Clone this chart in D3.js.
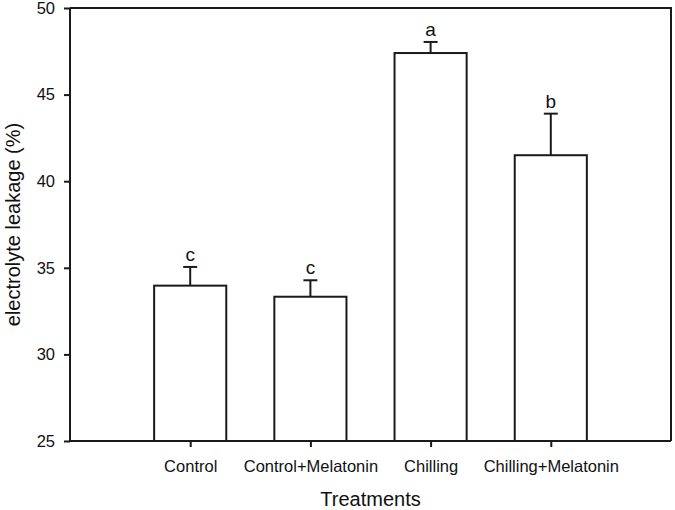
<!DOCTYPE html>
<html>
<head>
<meta charset="utf-8">
<script src="https://cdn.jsdelivr.net/npm/d3@7"></script>
<style>
  body { margin: 0; background: #fff; }
  svg { display: block; font-family: "Liberation Sans", Arial, sans-serif; }
</style>
</head>
<body>
<svg id="chart" width="675" height="510"></svg>
<script>
const categories = ["Control", "Control+Melatonin", "Chilling", "Chilling+Melatonin"];
const means = [33.97, 33.33, 47.4, 41.5];
const errors = [1.08, 0.95, 0.64, 2.4];
const letters = ["c", "c", "a", "b"];
const yTicks = [25, 30, 35, 40, 45, 50];

(function () {
const svg = d3.select("#chart");
const pLeft = 70, pRight = 671, pTop = 8, pBottom = 441;
const step = (pRight - pLeft) / 5;

const x = d3.scalePoint().domain(categories).range([pLeft + step, pRight - step]);
const y = d3.scaleLinear().domain([25, 50]).range([pBottom, pTop]);
const barW = step * 0.6;
const stroke = "#1a1a1a";

// bars
svg.append("g").selectAll("rect").data(categories).join("rect")
  .attr("x", d => x(d) - barW / 2)
  .attr("y", (d, i) => y(means[i]))
  .attr("width", barW)
  .attr("height", (d, i) => y(25) - y(means[i]))
  .attr("fill", "#fff")
  .attr("stroke", stroke)
  .attr("stroke-width", 2);

// error bars (upper only)
const eg = svg.append("g").attr("stroke", stroke).attr("stroke-width", 2);
categories.forEach((c, i) => {
  eg.append("line").attr("x1", x(c)).attr("x2", x(c))
    .attr("y1", y(means[i])).attr("y2", y(means[i] + errors[i]));
  eg.append("line").attr("x1", x(c) - 7).attr("x2", x(c) + 7)
    .attr("y1", y(means[i] + errors[i])).attr("y2", y(means[i] + errors[i]));
});

// significance letters
svg.append("g").selectAll("text").data(categories).join("text")
  .attr("x", d => x(d))
  .attr("y", (d, i) => y(means[i] + errors[i]) - 6)
  .attr("text-anchor", "middle")
  .attr("font-size", 19)
  .attr("fill", "#111")
  .text((d, i) => letters[i]);

// frame (top and right)
svg.append("path")
  .attr("d", `M${pLeft},${pTop}H${pRight}V${pBottom}`)
  .attr("fill", "none").attr("stroke", stroke).attr("stroke-width", 2);

// y axis
const yAxis = svg.append("g").attr("transform", `translate(${pLeft},0)`)
  .call(d3.axisLeft(y).tickValues(yTicks).tickSize(6).tickPadding(9).tickFormat(d3.format("d")));
yAxis.selectAll("path, line").attr("stroke", stroke).attr("stroke-width", 2);
yAxis.select(".domain").attr("d", `M0,${pTop}V${pBottom}`);
yAxis.selectAll("text").attr("font-size", 16.5).attr("fill", "#111")
  .attr("font-family", "Liberation Sans, Arial, sans-serif");

// x axis
const xAxis = svg.append("g").attr("transform", `translate(0,${pBottom})`)
  .call(d3.axisBottom(x).tickSize(6).tickPadding(13));
xAxis.select(".domain").attr("d", `M${pLeft},0H${pRight}`)
  .attr("stroke", stroke).attr("stroke-width", 2);
xAxis.selectAll("line").attr("stroke", stroke).attr("stroke-width", 2);
xAxis.selectAll("text").attr("font-size", 16.5).attr("fill", "#111")
  .attr("font-family", "Liberation Sans, Arial, sans-serif");

// axis titles
svg.append("text")
  .attr("x", (pLeft + pRight) / 2).attr("y", 506)
  .attr("text-anchor", "middle").attr("font-size", 20).attr("fill", "#111")
  .text("Treatments");

svg.append("text")
  .attr("transform", `translate(20,${(pTop + pBottom) / 2}) rotate(-90)`)
  .attr("text-anchor", "middle").attr("font-size", 20).attr("fill", "#111")
  .text("electrolyte leakage (%)");
})();
</script>
</body>
</html>
